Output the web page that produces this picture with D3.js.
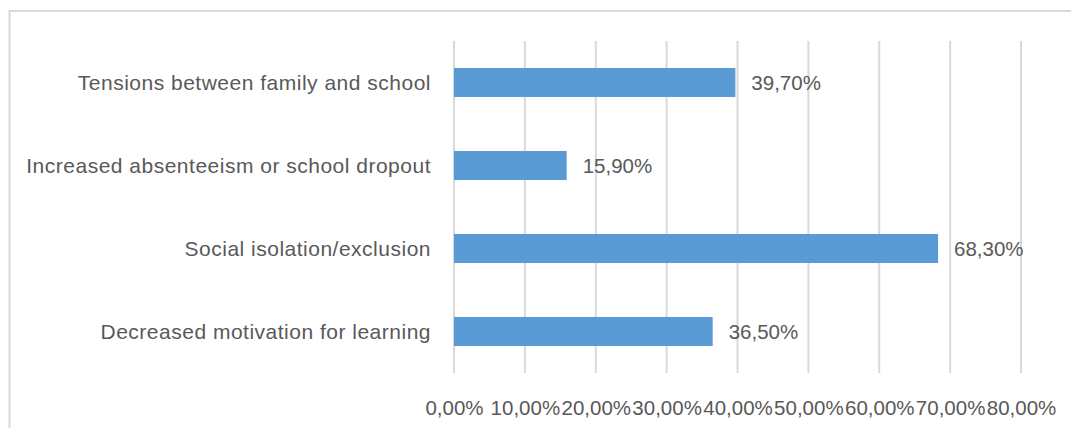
<!DOCTYPE html>
<html>
<head>
<meta charset="utf-8">
<script src="https://cdn.jsdelivr.net/npm/d3@7"></script>
<style>
  html, body { margin: 0; padding: 0; background: #fff; }
  svg { display: block; }
  text { font-family: "Liberation Sans", Arial, sans-serif; fill: #595959; }
</style>
</head>
<body>
<svg id="chart" width="1071" height="428"></svg>
<script>
// Consequences reported, share of respondents (%)
const categories = [
  "Tensions between family and school",
  "Increased absenteeism or school dropout",
  "Social isolation/exclusion",
  "Decreased motivation for learning"
];
const values = [39.7, 15.9, 68.3, 36.5];
const tickValues = [0, 10, 20, 30, 40, 50, 60, 70, 80];

const fmt = v => d3.format(".2f")(v).replace(".", ",") + "%";

const svg = d3.select("#chart");

// chart frame
svg.append("rect")
  .attr("x", 9.5).attr("y", 11)
  .attr("width", 1200).attr("height", 600)
  .attr("fill", "none")
  .attr("stroke", "#d9d9d9")
  .attr("stroke-width", 2);

const plot = { left: 454, right: 1021, top: 41, bottom: 373 };

const x = d3.scaleLinear().domain([0, 80]).range([plot.left, plot.right]);
const y = d3.scaleBand().domain(categories).range([plot.top, plot.bottom]).paddingInner(0.65).paddingOuter(0.325);

// vertical gridlines
svg.append("g")
  .selectAll("line")
  .data(tickValues)
  .join("line")
  .attr("x1", d => x(d)).attr("x2", d => x(d))
  .attr("y1", plot.top).attr("y2", plot.bottom)
  .attr("stroke", "#d9d9d9")
  .attr("stroke-width", 2);

// bars
svg.append("g")
  .selectAll("rect")
  .data(values)
  .join("rect")
  .attr("x", x(0))
  .attr("y", (d, i) => y(categories[i]))
  .attr("width", d => x(d) - x(0))
  .attr("height", y.bandwidth())
  .attr("fill", "#5b9bd5");

// value labels
svg.append("g")
  .selectAll("text")
  .data(values)
  .join("text")
  .attr("x", d => x(d) + 16)
  .attr("y", (d, i) => y(categories[i]) + y.bandwidth() / 2)
  .attr("dy", "0.36em")
  .style("font-size", "20.5px")
  .text(d => fmt(d));

// category axis labels
svg.append("g")
  .selectAll("text")
  .data(categories)
  .join("text")
  .attr("x", 431)
  .attr("y", d => y(d) + y.bandwidth() / 2)
  .attr("dy", "0.36em")
  .attr("text-anchor", "end")
  .style("font-size", "21px")
  .style("letter-spacing", "0.5px")
  .text(d => d);

// value axis
const xAxis = d3.axisBottom(x).tickValues(tickValues).tickSize(0).tickPadding(0).tickFormat(fmt);
const gx = svg.append("g").attr("transform", `translate(0, ${plot.bottom})`).call(xAxis);
gx.select(".domain").remove();
gx.selectAll("text")
  .attr("y", 42)
  .attr("dy", 0)
  .style("font-size", "20.5px")
  .style("font-family", "'Liberation Sans', Arial, sans-serif")
  .attr("fill", "#595959");
</script>
</body>
</html>
